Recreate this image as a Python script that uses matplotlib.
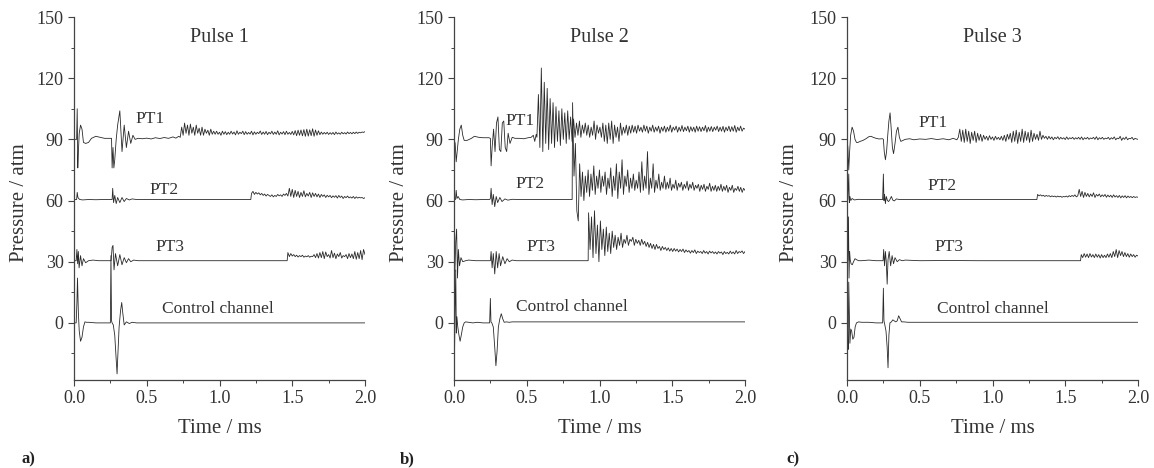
import numpy as np
import matplotlib
matplotlib.use("Agg")
import matplotlib.pyplot as plt
from matplotlib.ticker import MultipleLocator, FormatStrFormatter

plt.rcParams['font.family'] = ['Liberation Serif', 'DejaVu Serif']

# ---------------- Pulse 1 ----------------
a_pt1_t = [0, 0.018, 0.022, 0.026, 0.030, 0.036, 0.045, 0.055, 0.065, 0.08, 0.10, 0.12, 0.15, 0.18, 0.21, 0.24, 0.258, 0.262, 0.268, 0.274, 0.28, 0.29, 0.30, 0.315, 0.33, 0.345, 0.36, 0.375, 0.39, 0.405, 0.42, 0.44, 0.47, 0.50, 0.53, 0.56, 0.59, 0.62, 0.65, 0.68, 0.70, 0.72]
a_pt1_v = [90, 90, 105, 76, 84, 93, 97, 95, 88.5, 88, 88.5, 90.5, 91.5, 91, 90.5, 90.5, 90.5, 76, 86, 76, 80, 90, 97, 104, 84, 97, 86, 94, 88, 92, 90, 90.5, 90.3, 90.6, 90.2, 90.8, 90.4, 90.9, 90.5, 91.2, 90.6, 91.5]
a_pt1_ns_start = 0.73
a_pt1_ns = [91, 96, 92, 98, 93, 97, 92, 97.5, 93, 96, 92, 97, 93, 95.5, 92, 96, 92, 95, 93, 94.5, 92, 95, 92.5, 94,
            92.5, 94, 92.5, 93.5, 92, 94, 92.5, 93.8, 92.3, 93.5, 92.5, 94, 92.6, 93.6, 92.2, 94.2, 92.5, 93.5, 92.8, 94,
            92.3, 93.8, 92.5, 93.4, 92.6, 94, 92.2, 93.7, 92.5, 93.5, 92.8, 94.1, 92.4, 93.6, 92.5, 93.9, 92.3, 93.5, 92.7, 94,
            92.4, 93.6, 92.5, 94.2, 92.2, 93.5, 92.6, 93.8, 92.3, 94, 92.5, 93.4, 92.4, 93.9, 92.2, 94.3, 91.8, 94.5, 92, 94.6,
            91.7, 94.8, 91.5, 95, 91.6, 94.7, 91.8, 95.2, 91.5, 94.6, 92, 94.2, 92.3, 93.6, 92.5, 93.4, 92.6, 93.5, 92.4, 93.3,
            92.5, 93.4, 92.3, 93.6, 92.6, 93.2, 92.5, 93.5, 92.7, 93.3, 92.6, 93.6, 92.8, 93.4, 92.7, 93.5, 92.8, 93.6, 92.9, 93.5,
            93.2, 93.6, 93.4, 93.8]

a_pt2_t = [0, 0.018, 0.022, 0.027, 0.032, 0.04, 0.06, 0.10, 0.15, 0.2, 0.25, 0.262, 0.266, 0.272, 0.28, 0.29, 0.30, 0.315, 0.33, 0.345, 0.36, 0.38, 0.40, 0.43, 0.6, 0.8, 1.0, 1.2, 1.215]
a_pt2_v = [60.5, 60.5, 64, 61.5, 61, 60.5, 60.3, 60.5, 60.4, 60.5, 60.5, 60.5, 66, 59, 62.5, 58.5, 61.5, 59, 61.5, 59.5, 61, 60.3, 60.8, 60.5, 60.5, 60.5, 60.5, 60.5, 60.5]
a_pt2_ns_start = 1.22
a_pt2_ns = [63.5, 64.5, 63, 64, 63.2, 63.8, 62.8, 63.5, 62.5, 63.2, 62.2, 63, 62.5, 62, 62.8, 61.8, 62.5, 62, 63, 62.3,
            62.8, 62, 63.2, 62.5, 63.5, 62.2, 66, 62, 65.5, 61.5, 65, 62, 64.5, 61.5, 64, 62, 64.8, 61.8, 63.5, 62.2,
            64, 61.5, 63.8, 62, 63.5, 61.8, 63.2, 61.5, 63, 62, 62.8, 61.5, 62.6, 61.8, 62.5, 61.4, 62.3, 61.6, 62.4, 61.2,
            62.5, 61.5, 62.2, 61, 62, 61.4, 62.2, 61.3, 61.8, 61.2, 62, 61, 61.8, 61.2, 61.6, 61.3, 61.5, 61, 61.4]

a_pt3_t = [0, 0.015, 0.02, 0.025, 0.03, 0.035, 0.045, 0.055, 0.065, 0.08, 0.10, 0.13, 0.17, 0.22, 0.255, 0.262, 0.268, 0.275, 0.285, 0.30, 0.315, 0.33, 0.345, 0.36, 0.375, 0.39, 0.41, 0.44, 0.6, 0.9, 1.2, 1.465]
a_pt3_v = [30.5, 30.5, 36, 29, 35, 27, 33, 28, 31.5, 29.5, 30.5, 30.8, 30.5, 30.5, 30.5, 37, 38, 26, 34, 28, 33.5, 28.5, 32, 29.5, 31.5, 30, 30.8, 30.5, 30.5, 30.5, 30.5, 30.5]
a_pt3_ns_start = 1.47
a_pt3_ns = [34.5, 32.5, 34, 32.8, 33.5, 32.5, 33.2, 32.3, 33, 32.5, 33.2, 32.2, 32.8, 32.4, 33, 32.2, 32.7, 32.5, 33.5, 32,
            34, 31.8, 34.5, 32, 35, 31.5, 34.8, 32.5, 33.5, 31.8, 35.5, 32, 34.2, 31.5, 33.8, 32.5, 34.5, 31.8, 33, 32.5,
            33.5, 31.5, 34, 32, 33.8, 31.5, 35, 31.2, 34.5, 31.5, 35.5, 31, 36, 33.5]

a_ctrl_t = [0, 0.015, 0.02, 0.024, 0.03, 0.036, 0.045, 0.055, 0.065, 0.075, 0.085, 0.10, 0.15, 0.2, 0.25, 0.254, 0.258, 0.262, 0.27, 0.28, 0.29, 0.296, 0.30, 0.31, 0.32, 0.328, 0.335, 0.345, 0.36, 0.38, 0.40, 0.43, 0.5, 1.0, 2.0]
a_ctrl_v = [0, 0, 10, 22, 5, -4, -9, -7, -2, 0.5, 0.3, 0.3, 0, 0, 0, 33, 1, 0, -1, -6, -18, -25, -18, -2, 6, 10, 5, -1, 0.5, -0.3, 0.3, 0, 0, 0, 0]

# ---------------- Pulse 2 ----------------
b_pt1_t = [0, 0.008, 0.015, 0.022, 0.03, 0.04, 0.05, 0.06, 0.07, 0.09, 0.12, 0.14, 0.17, 0.2, 0.24, 0.25, 0.255, 0.262, 0.272, 0.282, 0.292, 0.302, 0.312, 0.322, 0.332, 0.342, 0.352, 0.362, 0.372, 0.385, 0.40, 0.42, 0.45, 0.48, 0.51, 0.53, 0.545, 0.555, 0.565]
b_pt1_v = [90, 88, 79, 84, 90, 95, 97, 92, 89.5, 89.5, 90.5, 91.5, 91, 90.8, 90.8, 90.5, 77, 86, 95, 84, 98, 101, 85, 84, 98, 99, 86, 84, 93, 88, 91, 90.5, 90.5, 90.3, 90.8, 91, 92, 89, 92.5]
b_pt1_ns_start = 0.57
b_pt1_ns = [91, 112, 86, 125, 84, 118, 88, 115, 85, 110, 88, 108, 86, 106, 89, 104, 87, 105, 90, 103, 88, 104, 90, 101, 89, 100,
            91, 98, 92, 99, 91, 97, 93, 98, 92, 97, 91, 96, 92, 99, 90, 97, 93, 96, 91, 98,
            89, 97, 88, 98, 90, 99, 88, 97, 91, 96, 89, 98, 92, 96, 93, 97, 92, 96.5, 93, 97,
            93.5, 96.5, 93, 97, 94, 96, 93.5, 97, 94, 96.5, 93, 96, 94, 97, 93.5, 96, 94, 96.5, 93, 96,
            94, 96.5, 93.5, 96, 94, 97, 93.5, 96, 94.5, 96.5, 93.5, 96, 94, 96.8, 93.8, 96, 94.2, 96.5, 93.5, 96.2,
            94, 96, 93.5, 96.5, 94, 96.2, 93.8, 96, 94.2, 96.8, 93.5, 96, 94, 96.3, 93.8, 96, 94.5, 96.5, 93.8, 96,
            94, 96.4, 93.5, 96, 94.2, 96.5, 93.8, 96.2, 94, 96.8, 93.5, 96, 94.2, 96.5, 94, 95.5, 95]

b_pt2_t = [0, 0.01, 0.015, 0.02, 0.028, 0.04, 0.06, 0.1, 0.15, 0.2, 0.245, 0.25, 0.255, 0.262, 0.27, 0.28, 0.29, 0.30, 0.315, 0.33, 0.35, 0.37, 0.40, 0.45, 0.6, 0.8, 0.812]
b_pt2_v = [60.5, 60.5, 65, 61, 62, 60.5, 60.3, 60.5, 60.4, 60.5, 60.5, 61, 66, 58, 63, 57, 62, 59, 61.5, 59.5, 60.8, 60.2, 60.6, 60.5, 60.5, 60.5, 60.5]
b_pt2_ns_start = 0.815
b_pt2_ns = [108, 72, 88, 55, 50, 78, 62, 74, 60, 72, 64, 75, 62, 73, 65, 77, 63, 72, 66, 75, 64, 72, 67, 74, 63, 71,
            66, 76, 62, 72, 65, 78, 61, 74, 66, 80, 63, 72, 67, 75, 64, 71, 66, 73, 65, 70,
            66, 74, 64, 79, 65, 72, 66, 84, 63, 71, 66, 78, 64, 70, 66, 73, 65, 69, 66, 72,
            65.5, 69, 66, 71, 65, 68, 66, 70, 65, 68.5, 66.5, 69, 65, 68, 66, 69.5, 65, 68, 66, 69,
            65, 67.5, 66, 68, 64.5, 67.5, 65.5, 68, 64.5, 67, 65.5, 68.5, 64.5, 67, 65, 67.5, 64.5, 67, 65, 68,
            64.5, 67, 65, 67.5, 64, 66.5, 65, 67.5, 64, 66, 65, 67, 64.5, 66.5, 64, 66, 65]

b_pt3_t = [0, 0.006, 0.012, 0.018, 0.024, 0.03, 0.038, 0.048, 0.06, 0.08, 0.1, 0.15, 0.2, 0.25, 0.255, 0.262, 0.27, 0.28, 0.29, 0.30, 0.31, 0.32, 0.335, 0.35, 0.365, 0.38, 0.40, 0.43, 0.6, 0.8, 0.922]
b_pt3_v = [30.5, 25, 40, 46, 22, 36, 28, 32, 30, 30.5, 30.8, 30.5, 30.5, 30.5, 35, 27, 34, 24, 35, 27, 34, 28, 32.5, 29, 31.5, 30, 30.8, 30.5, 30.5, 30.5, 30.5]
b_pt3_ns_start = 0.925
b_pt3_ns = [54, 36, 52, 32, 55, 34, 48, 30, 50, 36, 46, 33, 47, 35, 44, 34, 45, 37, 43, 36, 42, 38, 44, 37, 41,
            39, 43, 38, 41, 40, 42, 38, 41, 39, 40.5, 38, 41, 38.5, 40, 37.5, 39.5, 37, 39, 36.5, 38.5,
            36, 38.5, 36.5, 37.5, 35.5, 37.5, 36, 37, 35.5, 36.8, 35.2, 36.5, 35, 36.5, 35.2, 36.2, 34.8, 36, 35, 36.2,
            34.5, 35.8, 34.8, 35.5, 34.2, 35.5, 34.5, 35.8, 34, 35.2, 34.5, 35, 34, 35.5, 34.2, 35, 33.8, 35.2, 34.3, 35,
            34, 34.8, 33.8, 35, 34.2, 34.8, 33.5, 35, 34, 34.6, 33.8, 35.2, 34, 34.8, 33.8, 35.5, 34, 35, 34.5, 35.3, 34, 35]

b_ctrl_t = [0, 0.004, 0.008, 0.012, 0.016, 0.02, 0.026, 0.034, 0.042, 0.05, 0.06, 0.07, 0.08, 0.1, 0.13, 0.16, 0.2, 0.245, 0.25, 0.254, 0.26, 0.27, 0.28, 0.288, 0.296, 0.305, 0.315, 0.325, 0.335, 0.345, 0.36, 0.38, 0.4, 1.0, 2.0]
b_ctrl_v = [0, -12, 8, 26, -5, 3, -2, -6, -9, -6, -2, 0, 0.5, 0.3, 0, 0.3, 0, 0, 12, 0.5, 0, -2, -12, -21, -14, -2, 2, 4.5, 2, 0.3, 0.5, 0.3, 0.5, 0.5, 0.5]

# ---------------- Pulse 3 ----------------
c_pt1_t = [0, 0.006, 0.012, 0.018, 0.025, 0.035, 0.045, 0.055, 0.065, 0.075, 0.09, 0.11, 0.13, 0.15, 0.165, 0.18, 0.2, 0.22, 0.245, 0.25, 0.256, 0.264, 0.272, 0.28, 0.288, 0.296, 0.304, 0.312, 0.32, 0.33, 0.34, 0.35, 0.36, 0.37, 0.385, 0.40, 0.43, 0.46, 0.50, 0.54, 0.58, 0.62, 0.66, 0.70, 0.73, 0.755]
c_pt1_v = [90, 86, 75, 84, 92, 96, 94, 90, 88.5, 88.5, 89, 89.5, 90.3, 91.3, 91.5, 91, 90.5, 90.2, 90.3, 90, 84, 80, 84, 92, 99, 103, 95, 86, 83, 88, 94, 96, 91, 89, 89.5, 90, 90.3, 89.8, 90.2, 90, 90.4, 89.9, 90.3, 89.8, 90.5, 89.8]
c_pt1_ns_start = 0.765
c_pt1_ns = [91, 95, 89, 94.5, 88.5, 95, 89, 94, 88, 93.5, 89.5, 94, 88.5, 93, 89.5, 92.5, 89, 92, 90, 91.5,
            89.5, 91.8, 90, 91.2, 89.5, 91.5, 90, 91, 89.8, 91.5, 89.5, 92, 89, 92.5, 90, 93, 88.5, 94, 89, 94.5,
            88, 93.5, 89, 95, 88.5, 94, 89.5, 93.5, 88.5, 94.5, 89, 93, 90, 92.5, 89.5, 94, 90, 92, 90.5, 91.5,
            90, 91.5, 90.2, 91.2, 89.8, 91, 90.3, 91.3, 90, 91, 90.2, 90.8, 89.9, 91.2, 90, 90.8, 90.3, 91, 90, 90.8,
            90.2, 91, 90, 91.2, 89.8, 90.8, 90.2, 91, 90, 90.7, 90.3, 91, 90, 91.3, 89.8, 90.8, 90.2, 91, 90, 90.6,
            90.3, 91, 89.9, 90.8, 90.2, 91.2, 89.8, 90.6, 90.3, 91.5, 89.5, 90.8, 90, 91.2, 89.8, 90.5, 90.3, 91, 89.8, 90.5, 90.2, 90]

c_pt2_t = [0, 0.006, 0.012, 0.016, 0.02, 0.026, 0.035, 0.05, 0.08, 0.12, 0.2, 0.245, 0.25, 0.254, 0.258, 0.264, 0.27, 0.278, 0.286, 0.295, 0.305, 0.315, 0.325, 0.34, 0.36, 0.38, 0.42, 0.6, 0.9, 1.2, 1.305]
c_pt2_v = [60.5, 60.5, 73, 59, 62, 60, 61, 60.3, 60.6, 60.5, 60.5, 60.5, 73, 60, 63, 58.5, 62, 60, 59.5, 60.5, 62, 60.2, 59.8, 60.8, 60.5, 60.5, 60.5, 60.5, 60.5, 60.5, 60.5]
c_pt2_ns_start = 1.31
c_pt2_ns = [63, 62.3, 62.8, 62.2, 62.6, 62, 62.5, 62.1, 62.4, 61.8, 62.3, 61.9, 62.2, 61.7, 62.2, 61.8, 62.1, 61.6, 62, 61.8,
            62.2, 61.7, 62.4, 61.9, 62.5, 62, 62.8, 61.8, 62.3, 65.5,
            62, 64.5, 61.5, 64, 62, 63.5, 61.8, 63.2, 62, 63.8, 61.5, 63, 62.2, 63.2, 61.8, 62.8, 62, 63, 61.6, 62.7,
            61.8, 62.6, 61.5, 62.8, 61.7, 62.4, 61.5, 62.5, 61.3, 62.3, 61.5, 62.4, 61.3, 62.2, 61.5, 62, 61.4, 62, 61.5, 61.8, 61.6]

c_pt3_t = [0, 0.005, 0.01, 0.014, 0.018, 0.022, 0.028, 0.036, 0.045, 0.055, 0.065, 0.08, 0.1, 0.15, 0.2, 0.248, 0.252, 0.258, 0.264, 0.27, 0.276, 0.282, 0.29, 0.30, 0.31, 0.32, 0.33, 0.345, 0.36, 0.38, 0.40, 0.5, 0.7, 0.9, 1.2, 1.5, 1.605]
c_pt3_v = [30.5, 30.5, 52, 22, 35, 31, 29, 28.5, 30, 31.5, 31, 30.5, 30.5, 30.8, 30.5, 30.5, 36, 28, 35, 30, 19, 31, 35, 28, 33, 29, 32, 30, 31, 30.5, 30.8, 30.5, 30.6, 30.5, 30.5, 30.5, 30.5]
c_pt3_ns_start = 1.61
c_pt3_ns = [33.5, 32, 34, 32.2, 33.8, 32, 34, 32.3, 33.5, 32, 33.8, 32.2, 33.5, 31.8, 33.5, 32, 33.2, 32, 33.8, 32.2,
            34, 32, 35, 32.5, 36, 32, 35.5, 33, 35, 32.5, 34.5, 32.5, 34, 32.2, 33.8, 32.5, 33.5, 32.2, 33.2, 32.8]

c_ctrl_t = [0, 0.004, 0.008, 0.012, 0.016, 0.02, 0.026, 0.032, 0.04, 0.048, 0.056, 0.065, 0.08, 0.1, 0.15, 0.2, 0.245, 0.25, 0.254, 0.26, 0.268, 0.276, 0.282, 0.288, 0.295, 0.305, 0.315, 0.325, 0.335, 0.345, 0.355, 0.365, 0.375, 0.39, 0.42, 1.0, 2.0]
c_ctrl_v = [0, -3, -13, 20, 5, -10, -3, -4, -8, -7, -2, 0, 0.5, 0.3, 0.3, 0, 0, 17, 1, -1, -4, -12, -22, -6, 0, 0.5, 1.5, 1, 0.5, 1, 3.5, 2, 0.5, 0.5, 0.3, 0.3, 0.3]

pulse_titles = ["Pulse 1", "Pulse 2", "Pulse 3"]
panel_letters = ["a)", "b)", "c)"]
trace_names = ["PT1", "PT2", "PT3", "Control channel"]
y_ticks = [0, 30, 60, 90, 120, 150]
x_ticks = [0.0, 0.5, 1.0, 1.5, 2.0]

T_END = 2.0


def build(t, v, ns_start=None, ns=None):
    assert len(t) == len(v), (len(t), len(v))
    t = list(t)
    v = list(v)
    if ns is not None:
        t += list(np.linspace(ns_start, T_END, len(ns)))
        v += list(ns)
    return np.array(t), np.array(v)


panels = [
    [build(a_pt1_t, a_pt1_v, a_pt1_ns_start, a_pt1_ns),
     build(a_pt2_t, a_pt2_v, a_pt2_ns_start, a_pt2_ns),
     build(a_pt3_t, a_pt3_v, a_pt3_ns_start, a_pt3_ns),
     build(a_ctrl_t, a_ctrl_v)],
    [build(b_pt1_t, b_pt1_v, b_pt1_ns_start, b_pt1_ns),
     build(b_pt2_t, b_pt2_v, b_pt2_ns_start, b_pt2_ns),
     build(b_pt3_t, b_pt3_v, b_pt3_ns_start, b_pt3_ns),
     build(b_ctrl_t, b_ctrl_v)],
    [build(c_pt1_t, c_pt1_v, c_pt1_ns_start, c_pt1_ns),
     build(c_pt2_t, c_pt2_v, c_pt2_ns_start, c_pt2_ns),
     build(c_pt3_t, c_pt3_v, c_pt3_ns_start, c_pt3_ns),
     build(c_ctrl_t, c_ctrl_v)],
]

# label positions (data coords) per panel: PT1, PT2, PT3, Control
label_pos = [
    [(0.52, 100), (0.62, 65), (0.66, 37), (0.99, 7)],
    [(0.455, 99), (0.52, 68), (0.60, 37), (0.81, 8)],
    [(0.59, 98), (0.65, 67), (0.70, 37), (1.00, 7)],
]

W, H = 1154, 468
fig = plt.figure(figsize=(W / 100, H / 100), dpi=100)
fig.patch.set_facecolor('white')

ax_left_px = [74, 454, 847]
ax_w_px = 291
ax_top_px = 17
ax_bot_px = 380
ylabel_px = [29, 409, 799]
letter_px = [28, 407, 793]

ink = '#2a2a2a'

for i in range(3):
    ax = fig.add_axes([ax_left_px[i] / W, 1 - ax_bot_px / H, ax_w_px / W, (ax_bot_px - ax_top_px) / H])
    for (t, v) in panels[i]:
        ax.plot(t, v, color=ink, lw=0.6)
    ax.set_xlim(0, 2.0)
    ax.set_ylim(-28, 150)
    for s in ['top', 'right']:
        ax.spines[s].set_visible(False)
    for s in ['left', 'bottom']:
        ax.spines[s].set_color('#444444')
        ax.spines[s].set_linewidth(0.9)
    ax.set_yticks(y_ticks)
    ax.set_xticks(x_ticks)
    ax.xaxis.set_major_formatter(FormatStrFormatter('%.1f'))
    ax.yaxis.set_minor_locator(MultipleLocator(15))
    ax.xaxis.set_minor_locator(MultipleLocator(0.25))
    ax.tick_params(which='major', direction='out', length=4, width=0.8, colors='#444444',
                   labelsize=13, labelcolor='#333333')
    ax.tick_params(which='minor', direction='out', length=2.5, width=0.7, colors='#444444')
    ax.set_ylabel("Pressure / atm", fontsize=15, color='#333333')
    ax.yaxis.set_label_coords((ylabel_px[i] - ax_left_px[i]) / ax_w_px, 0.49)
    ax.set_xlabel("Time / ms", fontsize=15, color='#333333')
    ax.xaxis.set_label_coords(0.5, -0.108)
    ax.text(1.0, 140, pulse_titles[i], fontsize=14.5, color='#333333', ha='center', va='center')
    for name, (x, y) in zip(trace_names, label_pos[i]):
        ax.text(x, y, name, fontsize=12.5, color='#333333', ha='center', va='center')
    fig.text(letter_px[i] / W, 1 - 459 / H, panel_letters[i], fontsize=12, fontweight='bold',
             color='#222222', ha='center', va='center')

fig.savefig("out.png", dpi=100, facecolor='white')
